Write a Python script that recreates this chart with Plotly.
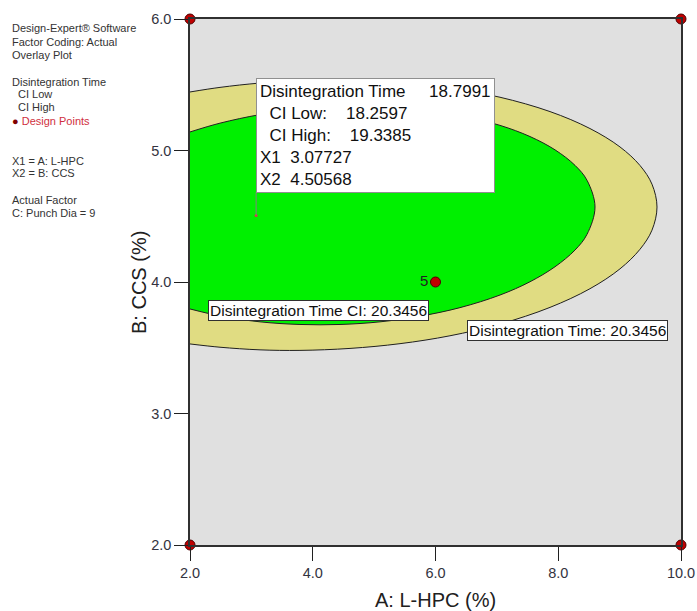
import plotly.graph_objects as go

# ---------------- data ----------------
contour_level = 20.3456

# Disintegration Time = 20.3456 contour (outer, khaki region boundary)
dt_contour_x = [2.0, 2.489, 3.141, 3.792, 4.607, 5.422, 6.236, 7.051, 7.866, 8.517, 9.006, 9.332, 9.527, 9.609,
                9.527, 9.332, 9.006, 8.517, 7.866, 7.051, 6.236, 5.422, 4.607, 3.792, 3.141, 2.489, 2.0]
dt_contour_y = [5.445, 5.480, 5.513, 5.532, 5.536, 5.517, 5.475, 5.405, 5.296, 5.167, 5.027, 4.886, 4.744, 4.570,
                4.394, 4.249, 4.100, 3.949, 3.807, 3.680, 3.591, 3.531, 3.495, 3.480, 3.484, 3.504, 3.529]

# Disintegration Time CI = 20.3456 contour (inner, green region boundary)
ci_contour_x = [2.0, 2.489, 3.141, 3.792, 4.444, 5.096, 5.747, 6.399, 7.051, 7.540, 7.947, 8.273, 8.468, 8.599,
                8.468, 8.273, 7.947, 7.540, 7.051, 6.399, 5.747, 5.096, 4.444, 3.792, 3.141, 2.489, 2.0]
ci_contour_y = [5.141, 5.208, 5.273, 5.315, 5.335, 5.334, 5.313, 5.267, 5.191, 5.106, 5.005, 4.887, 4.774, 4.570,
                4.362, 4.243, 4.116, 4.002, 3.901, 3.805, 3.740, 3.697, 3.677, 3.677, 3.697, 3.742, 3.795]

# design points
design_x = [2, 2, 10, 10, 6]
design_y = [2, 6, 2, 6, 4]
design_labels = ["", "", "", "", "5"]

# flagged point
flag_x1 = 3.07727
flag_x2 = 4.50568
flag_dt = 18.7991
flag_ci_low = 18.2597
flag_ci_high = 19.3385

x_ticks = [2, 4, 6, 8, 10]
x_tick_labels = ["2.0", "4.0", "6.0", "8.0", "10.0"]
y_ticks = [2, 3, 4, 5, 6]
y_tick_labels = ["2.0", "3.0", "4.0", "5.0", "6.0"]

# ---------------- layout helpers ----------------
W, H = 697, 611
L, R, T, B = 190, 681, 19, 545


def px_x(px):
    return (px - L) / (R - L)


def px_y(py):
    return (B - py) / (B - T)


FONT = "Liberation Sans, Arial, sans-serif"
NB = "\u00a0"

fig = go.Figure()

fig.add_trace(go.Scatter(
    x=dt_contour_x, y=dt_contour_y, mode="lines", fill="toself",
    fillcolor="#e0dc82", line=dict(color="#202020", width=1, shape="spline"),
    hoverinfo="skip", showlegend=False))

fig.add_trace(go.Scatter(
    x=ci_contour_x, y=ci_contour_y, mode="lines", fill="toself",
    fillcolor="#00f000", line=dict(color="#202020", width=1, shape="spline"),
    hoverinfo="skip", showlegend=False))

fig.add_trace(go.Scatter(
    x=design_x, y=design_y, mode="markers+text", text=design_labels,
    textposition="middle left", textfont=dict(family=FONT, size=15, color="#202020"),
    marker=dict(size=10, color="#c00000", line=dict(color="#500000", width=1)),
    cliponaxis=False, hoverinfo="skip", showlegend=False))

fig.add_trace(go.Scatter(
    x=[flag_x1], y=[flag_x2], mode="markers",
    marker=dict(size=3, color="#e03050"), hoverinfo="skip", showlegend=False))

# flag connector line
fig.add_shape(type="line", xref="x", yref="y", ysizemode="pixel",
              x0=flag_x1, x1=flag_x1, yanchor=flag_x2, y0=0, y1=23,
              line=dict(color="#808080", width=1))

flag_text = (f"Disintegration Time{NB*5}{flag_dt:.4f}<br>"
             f"{NB*2}CI Low:{NB*4}{flag_ci_low:.4f}<br>"
             f"{NB*2}CI High:{NB*4}{flag_ci_high:.4f}<br>"
             f"X1{NB*2}{flag_x1:.5f}<br>"
             f"X2{NB*2}{flag_x2:.5f}")

annotations = [
    dict(x=flag_x1, y=flag_x2, xref="x", yref="y", xanchor="left", yanchor="bottom",
         yshift=23, text=flag_text, showarrow=False, align="left",
         font=dict(family=FONT, size=17, color="#101010"),
         bgcolor="white", bordercolor="#909090", borderwidth=1, borderpad=3),
    dict(x=4.094, y=3.783, xref="x", yref="y", text=f"Disintegration Time CI: {contour_level:.4f}",
         showarrow=False, font=dict(family=FONT, size=15.5, color="#101010"),
         bgcolor="white", bordercolor="#303030", borderwidth=1, borderpad=1),
    dict(x=8.143, y=3.631, xref="x", yref="y", text=f"Disintegration Time: {contour_level:.4f}",
         showarrow=False, font=dict(family=FONT, size=15.5, color="#101010"),
         bgcolor="white", bordercolor="#303030", borderwidth=1, borderpad=1),
    # axis titles
    dict(x=px_x(435), y=px_y(600), xref="paper", yref="paper", xanchor="center", yanchor="middle",
         text="A: L-HPC (%)", showarrow=False, font=dict(family=FONT, size=20, color="#202020")),
    dict(x=px_x(139), y=px_y(283), xref="paper", yref="paper", xanchor="center", yanchor="middle",
         text="B: CCS (%)", textangle=-90, showarrow=False,
         font=dict(family=FONT, size=20, color="#202020")),
]

side_lines = [
    ("Design-Expert® Software", 10, 28, "#333333"),
    ("Factor Coding: Actual", 10, 42, "#333333"),
    ("Overlay Plot", 10, 55, "#333333"),
    ("Disintegration Time", 10, 82, "#333333"),
    ("CI Low", 16, 94, "#333333"),
    ("CI High", 16, 107, "#333333"),
    ("<span style='color:#800000'>●</span> Design Points", 10, 121, "#d03040"),
    ("X1 = A: L-HPC", 10, 161, "#333333"),
    ("X2 = B: CCS", 10, 173, "#333333"),
    ("Actual Factor", 10, 200, "#333333"),
    ("C: Punch Dia = 9", 10, 213, "#333333"),
]
for txt, lx, ly, col in side_lines:
    annotations.append(dict(x=px_x(lx), y=px_y(ly), xref="paper", yref="paper",
                            xanchor="left", yanchor="middle", text=txt, showarrow=False,
                            font=dict(family=FONT, size=11, color=col)))

fig.update_layout(
    width=W, height=H,
    margin=dict(l=L, r=W - R, t=T, b=H - B, autoexpand=False),
    paper_bgcolor="white", plot_bgcolor="#e0e0e0",
    annotations=annotations,
    showlegend=False,
)

fig.update_xaxes(range=[2, 10], tickvals=x_ticks, ticktext=x_tick_labels, automargin=False,
                 showgrid=False, zeroline=False, ticks="outside", ticklen=14, tickcolor="#202020",
                 showline=True, linecolor="#303030", linewidth=1.5, mirror=True,
                 tickfont=dict(family=FONT, size=14.5, color="#333340"))
fig.update_yaxes(range=[2, 6], tickvals=y_ticks, ticktext=y_tick_labels, automargin=False,
                 showgrid=False, zeroline=False, ticks="outside", ticklen=14, tickcolor="#202020",
                 showline=True, linecolor="#303030", linewidth=1.5, mirror=True,
                 tickfont=dict(family=FONT, size=14.5, color="#333340"))

fig.write_html("out.html", config={"displayModeBar": False},
               post_script="document.body.style.margin='0';document.body.style.overflow='hidden';")
